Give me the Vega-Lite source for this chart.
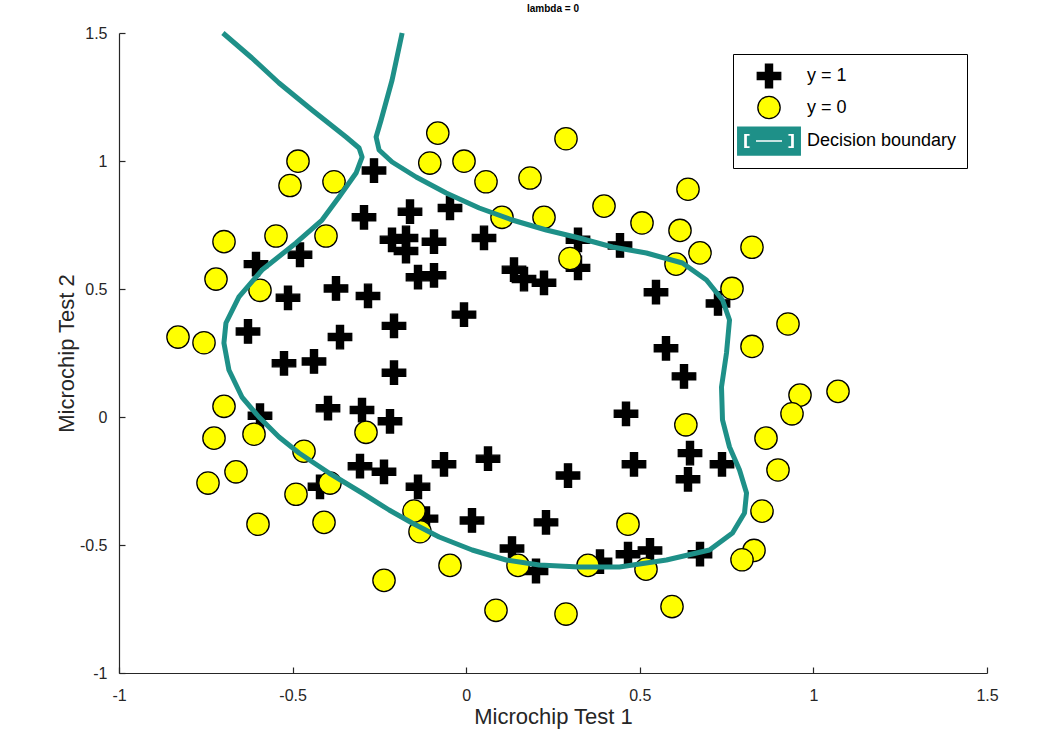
{
  "$schema": "https://vega.github.io/schema/vega-lite/v6.json",
  "width": 868,
  "height": 640,
  "autosize": {"type": "none"},
  "padding": {"left": 119, "top": 33, "right": 65, "bottom": 69},
  "background": "white",
  "title": {"text": "lambda = 0", "fontSize": 10, "fontWeight": "bold", "font": "Liberation Sans", "anchor": "middle", "offset": 11, "color": "#000000"},
  "config": {
    "view": {"stroke": null},
    "axis": {"grid": false, "domainColor": "#262626", "tickColor": "#262626", "labelColor": "#262626", "titleColor": "#262626", "labelFont": "Liberation Sans", "titleFont": "Liberation Sans", "labelFontSize": 16, "titleFontSize": 22, "titleFontWeight": "normal", "tickSize": -6, "domainWidth": 1.2, "tickWidth": 1.2, "labelFlush": false, "labelOverlap": false},
    "legend": {"labelFont": "Liberation Sans", "labelFontSize": 18, "labelColor": "#000000"}
  },
  "datasets": {
    "boundary": [
      {"i": 0, "x": -0.7007, "y": 1.5},
      {"i": 1, "x": -0.6171, "y": 1.4023},
      {"i": 2, "x": -0.5392, "y": 1.3047},
      {"i": 3, "x": -0.4441, "y": 1.1992},
      {"i": 4, "x": -0.346, "y": 1.0938},
      {"i": 5, "x": -0.3085, "y": 1.0508},
      {"i": 6, "x": -0.2999, "y": 1.0156},
      {"i": 7, "x": -0.3172, "y": 0.9531},
      {"i": 8, "x": -0.3662, "y": 0.8594},
      {"i": 9, "x": -0.4152, "y": 0.7695},
      {"i": 10, "x": -0.4902, "y": 0.6797},
      {"i": 11, "x": -0.5882, "y": 0.5742},
      {"i": 12, "x": -0.6546, "y": 0.4688},
      {"i": 13, "x": -0.692, "y": 0.3672},
      {"i": 14, "x": -0.6978, "y": 0.2891},
      {"i": 15, "x": -0.6834, "y": 0.1836},
      {"i": 16, "x": -0.6459, "y": 0.0781},
      {"i": 17, "x": -0.5969, "y": 0.0},
      {"i": 18, "x": -0.5392, "y": -0.0781},
      {"i": 19, "x": -0.4815, "y": -0.1406},
      {"i": 20, "x": -0.395, "y": -0.2188},
      {"i": 21, "x": -0.2999, "y": -0.2969},
      {"i": 22, "x": -0.222, "y": -0.3633},
      {"i": 23, "x": -0.1557, "y": -0.4141},
      {"i": 24, "x": -0.0779, "y": -0.4688},
      {"i": 25, "x": 0.0173, "y": -0.5195},
      {"i": 26, "x": 0.1153, "y": -0.5586},
      {"i": 27, "x": 0.2105, "y": -0.5781},
      {"i": 28, "x": 0.3258, "y": -0.5859},
      {"i": 29, "x": 0.4412, "y": -0.5859},
      {"i": 30, "x": 0.5767, "y": -0.5586},
      {"i": 31, "x": 0.7007, "y": -0.5195},
      {"i": 32, "x": 0.767, "y": -0.4531},
      {"i": 33, "x": 0.8016, "y": -0.375},
      {"i": 34, "x": 0.8074, "y": -0.2969},
      {"i": 35, "x": 0.7872, "y": -0.207},
      {"i": 36, "x": 0.7584, "y": -0.1172},
      {"i": 37, "x": 0.7382, "y": -0.0117},
      {"i": 38, "x": 0.7353, "y": 0.1172},
      {"i": 39, "x": 0.7497, "y": 0.25},
      {"i": 40, "x": 0.7584, "y": 0.3789},
      {"i": 41, "x": 0.7382, "y": 0.457},
      {"i": 42, "x": 0.692, "y": 0.5352},
      {"i": 43, "x": 0.6228, "y": 0.6016},
      {"i": 44, "x": 0.519, "y": 0.6406},
      {"i": 45, "x": 0.421, "y": 0.6641},
      {"i": 46, "x": 0.3258, "y": 0.6992},
      {"i": 47, "x": 0.2307, "y": 0.7305},
      {"i": 48, "x": 0.1326, "y": 0.7695},
      {"i": 49, "x": 0.0375, "y": 0.8164},
      {"i": 50, "x": -0.0577, "y": 0.875},
      {"i": 51, "x": -0.1442, "y": 0.9375},
      {"i": 52, "x": -0.2134, "y": 0.9961},
      {"i": 53, "x": -0.2509, "y": 1.043},
      {"i": 54, "x": -0.2595, "y": 1.0938},
      {"i": 55, "x": -0.2451, "y": 1.1602},
      {"i": 56, "x": -0.2134, "y": 1.3164},
      {"i": 57, "x": -0.1845, "y": 1.5}
    ],
    "chips": [
      {"t1": 0.051267, "t2": 0.69956, "s": "y = 1"},
      {"t1": -0.092742, "t2": 0.68494, "s": "y = 1"},
      {"t1": -0.21371, "t2": 0.69225, "s": "y = 1"},
      {"t1": -0.375, "t2": 0.50219, "s": "y = 1"},
      {"t1": -0.51325, "t2": 0.46564, "s": "y = 1"},
      {"t1": -0.52477, "t2": 0.2098, "s": "y = 1"},
      {"t1": -0.39804, "t2": 0.034357, "s": "y = 1"},
      {"t1": -0.30588, "t2": -0.19225, "s": "y = 1"},
      {"t1": 0.016705, "t2": -0.40424, "s": "y = 1"},
      {"t1": 0.13191, "t2": -0.51389, "s": "y = 1"},
      {"t1": 0.38537, "t2": -0.56506, "s": "y = 1"},
      {"t1": 0.52938, "t2": -0.5212, "s": "y = 1"},
      {"t1": 0.63882, "t2": -0.24342, "s": "y = 1"},
      {"t1": 0.73675, "t2": -0.18494, "s": "y = 1"},
      {"t1": 0.54666, "t2": 0.48757, "s": "y = 1"},
      {"t1": 0.322, "t2": 0.5826, "s": "y = 1"},
      {"t1": 0.16647, "t2": 0.53874, "s": "y = 1"},
      {"t1": -0.046659, "t2": 0.81652, "s": "y = 1"},
      {"t1": -0.17339, "t2": 0.69956, "s": "y = 1"},
      {"t1": -0.47869, "t2": 0.63377, "s": "y = 1"},
      {"t1": -0.60541, "t2": 0.59722, "s": "y = 1"},
      {"t1": -0.62846, "t2": 0.33406, "s": "y = 1"},
      {"t1": -0.59389, "t2": 0.005117, "s": "y = 1"},
      {"t1": -0.42108, "t2": -0.27266, "s": "y = 1"},
      {"t1": -0.11578, "t2": -0.39693, "s": "y = 1"},
      {"t1": 0.20104, "t2": -0.60161, "s": "y = 1"},
      {"t1": 0.46601, "t2": -0.53582, "s": "y = 1"},
      {"t1": 0.67339, "t2": -0.53582, "s": "y = 1"},
      {"t1": -0.13882, "t2": 0.54605, "s": "y = 1"},
      {"t1": -0.29435, "t2": 0.77997, "s": "y = 1"},
      {"t1": -0.26555, "t2": 0.96272, "s": "y = 1"},
      {"t1": -0.16187, "t2": 0.8019, "s": "y = 1"},
      {"t1": -0.17339, "t2": 0.64839, "s": "y = 1"},
      {"t1": -0.28283, "t2": 0.47295, "s": "y = 1"},
      {"t1": -0.36348, "t2": 0.31213, "s": "y = 1"},
      {"t1": -0.30012, "t2": 0.027047, "s": "y = 1"},
      {"t1": -0.23675, "t2": -0.21418, "s": "y = 1"},
      {"t1": -0.06394, "t2": -0.18494, "s": "y = 1"},
      {"t1": 0.062788, "t2": -0.16301, "s": "y = 1"},
      {"t1": 0.22984, "t2": -0.41155, "s": "y = 1"},
      {"t1": 0.2932, "t2": -0.2288, "s": "y = 1"},
      {"t1": 0.48329, "t2": -0.18494, "s": "y = 1"},
      {"t1": 0.64459, "t2": -0.14108, "s": "y = 1"},
      {"t1": 0.46025, "t2": 0.012427, "s": "y = 1"},
      {"t1": 0.6273, "t2": 0.15863, "s": "y = 1"},
      {"t1": 0.57546, "t2": 0.26827, "s": "y = 1"},
      {"t1": 0.72523, "t2": 0.44371, "s": "y = 1"},
      {"t1": 0.22408, "t2": 0.52412, "s": "y = 1"},
      {"t1": 0.44297, "t2": 0.67032, "s": "y = 1"},
      {"t1": 0.322, "t2": 0.69225, "s": "y = 1"},
      {"t1": 0.13767, "t2": 0.57529, "s": "y = 1"},
      {"t1": -0.0063364, "t2": 0.39985, "s": "y = 1"},
      {"t1": -0.092742, "t2": 0.55336, "s": "y = 1"},
      {"t1": -0.20795, "t2": 0.35599, "s": "y = 1"},
      {"t1": -0.20795, "t2": 0.17325, "s": "y = 1"},
      {"t1": -0.43836, "t2": 0.21711, "s": "y = 1"},
      {"t1": -0.21947, "t2": -0.016813, "s": "y = 1"},
      {"t1": -0.13882, "t2": -0.27266, "s": "y = 1"},
      {"t1": 0.18376, "t2": 0.93348, "s": "y = 0"},
      {"t1": 0.22408, "t2": 0.77997, "s": "y = 0"},
      {"t1": 0.29896, "t2": 0.61915, "s": "y = 0"},
      {"t1": 0.50634, "t2": 0.75804, "s": "y = 0"},
      {"t1": 0.61578, "t2": 0.7288, "s": "y = 0"},
      {"t1": 0.60426, "t2": 0.59722, "s": "y = 0"},
      {"t1": 0.76555, "t2": 0.50219, "s": "y = 0"},
      {"t1": 0.92684, "t2": 0.3633, "s": "y = 0"},
      {"t1": 0.82316, "t2": 0.27558, "s": "y = 0"},
      {"t1": 0.96141, "t2": 0.085526, "s": "y = 0"},
      {"t1": 0.93836, "t2": 0.012427, "s": "y = 0"},
      {"t1": 0.86348, "t2": -0.082602, "s": "y = 0"},
      {"t1": 0.89804, "t2": -0.20687, "s": "y = 0"},
      {"t1": 0.85196, "t2": -0.36769, "s": "y = 0"},
      {"t1": 0.82892, "t2": -0.5212, "s": "y = 0"},
      {"t1": 0.79435, "t2": -0.55775, "s": "y = 0"},
      {"t1": 0.59274, "t2": -0.7405, "s": "y = 0"},
      {"t1": 0.51786, "t2": -0.5943, "s": "y = 0"},
      {"t1": 0.46601, "t2": -0.41886, "s": "y = 0"},
      {"t1": 0.35081, "t2": -0.57968, "s": "y = 0"},
      {"t1": 0.28744, "t2": -0.76974, "s": "y = 0"},
      {"t1": 0.085829, "t2": -0.75512, "s": "y = 0"},
      {"t1": 0.14919, "t2": -0.57968, "s": "y = 0"},
      {"t1": -0.13306, "t2": -0.4481, "s": "y = 0"},
      {"t1": -0.40956, "t2": -0.41155, "s": "y = 0"},
      {"t1": -0.39228, "t2": -0.25804, "s": "y = 0"},
      {"t1": -0.74366, "t2": -0.25804, "s": "y = 0"},
      {"t1": -0.69758, "t2": 0.041667, "s": "y = 0"},
      {"t1": -0.75518, "t2": 0.2902, "s": "y = 0"},
      {"t1": -0.69758, "t2": 0.68494, "s": "y = 0"},
      {"t1": -0.4038, "t2": 0.70687, "s": "y = 0"},
      {"t1": -0.38076, "t2": 0.91886, "s": "y = 0"},
      {"t1": -0.50749, "t2": 0.90424, "s": "y = 0"},
      {"t1": -0.54781, "t2": 0.70687, "s": "y = 0"},
      {"t1": 0.10311, "t2": 0.77997, "s": "y = 0"},
      {"t1": 0.057028, "t2": 0.91886, "s": "y = 0"},
      {"t1": -0.10484, "t2": 0.99196, "s": "y = 0"},
      {"t1": -0.081797, "t2": 1.1089, "s": "y = 0"},
      {"t1": 0.28744, "t2": 1.087, "s": "y = 0"},
      {"t1": 0.39689, "t2": 0.82383, "s": "y = 0"},
      {"t1": 0.63882, "t2": 0.88962, "s": "y = 0"},
      {"t1": 0.82316, "t2": 0.66301, "s": "y = 0"},
      {"t1": 0.67339, "t2": 0.64108, "s": "y = 0"},
      {"t1": 1.0709, "t2": 0.10015, "s": "y = 0"},
      {"t1": -0.046659, "t2": -0.57968, "s": "y = 0"},
      {"t1": -0.23675, "t2": -0.63816, "s": "y = 0"},
      {"t1": -0.15035, "t2": -0.36769, "s": "y = 0"},
      {"t1": -0.49021, "t2": -0.3019, "s": "y = 0"},
      {"t1": -0.46717, "t2": -0.13377, "s": "y = 0"},
      {"t1": -0.28859, "t2": -0.0599, "s": "y = 0"},
      {"t1": -0.61118, "t2": -0.067251, "s": "y = 0"},
      {"t1": -0.66302, "t2": -0.21418, "s": "y = 0"},
      {"t1": -0.59965, "t2": -0.41886, "s": "y = 0"},
      {"t1": -0.72638, "t2": -0.082602, "s": "y = 0"},
      {"t1": -0.83007, "t2": 0.31213, "s": "y = 0"},
      {"t1": -0.72062, "t2": 0.53874, "s": "y = 0"},
      {"t1": -0.59389, "t2": 0.49488, "s": "y = 0"},
      {"t1": -0.48445, "t2": 0.99927, "s": "y = 0"},
      {"t1": -0.0063364, "t2": 0.99927, "s": "y = 0"},
      {"t1": 0.63265, "t2": -0.030612, "s": "y = 0"}
    ]
  },
  "layer": [
    {
      "data": {"name": "chips"},
      "mark": {"type": "point", "filled": true, "size": 500, "strokeWidth": 1.3, "opacity": 1},
      "encoding": {
        "x": {"field": "t1", "type": "quantitative", "scale": {"domain": [-1, 1.5], "nice": false, "zero": false},
              "axis": {"title": "Microchip Test 1", "values": [-1, -0.5, 0, 0.5, 1, 1.5], "labelExpr": "'' + datum.value", "labelPadding": 20, "titlePadding": 3}},
        "y": {"field": "t2", "type": "quantitative", "scale": {"domain": [-1, 1.5], "nice": false, "zero": false},
              "axis": {"title": "Microchip Test 2", "values": [-1, -0.5, 0, 0.5, 1, 1.5], "labelExpr": "'' + datum.value", "labelPadding": 18, "titlePadding": 1}},
        "shape": {"field": "s", "type": "nominal",
                  "scale": {"domain": ["y = 1", "y = 0", "Decision boundary"],
                            "range": ["M-1.05,-0.32H-0.32V-1.05H0.32V-0.32H1.05V0.32H0.32V1.05H-0.32V0.32H-1.05Z", "circle", "M-2.8,-1.25H2.8V1.25H-2.8Z M-2.28,-0.69V0.69H-1.68V0.42H-1.92V-0.42H-1.68V-0.69Z M2.28,-0.69H1.68V-0.42H1.92V0.42H1.68V0.69H2.28Z M-1.22,-0.13V0.13H1.22V-0.13Z"]},
                  "legend": {"title": null, "orient": "none", "legendX": 614, "legendY": 21, "symbolSize": 500, "padding": 10, "rowPadding": 2.5, "symbolOffset": 14, "labelOffset": 26, "strokeColor": "#000000", "fillColor": "#ffffff", "cornerRadius": 0, "symbolStrokeWidth": 1.3}},
        "fill": {"field": "s", "type": "nominal",
                 "scale": {"domain": ["y = 1", "y = 0", "Decision boundary"], "range": ["#000000", "#ffff00", "#1e9088"]}},
        "stroke": {"field": "s", "type": "nominal",
                   "scale": {"domain": ["y = 1", "y = 0", "Decision boundary"], "range": ["#000000", "#000000", "#1e9088"]}}
      }
    },
    {
      "data": {"name": "boundary"},
      "mark": {"type": "line", "color": "#1e9088", "strokeWidth": 5, "strokeJoin": "round"},
      "encoding": {
        "x": {"field": "x", "type": "quantitative"},
        "y": {"field": "y", "type": "quantitative"},
        "order": {"field": "i", "type": "quantitative"}
      }
    }
  ]
}
